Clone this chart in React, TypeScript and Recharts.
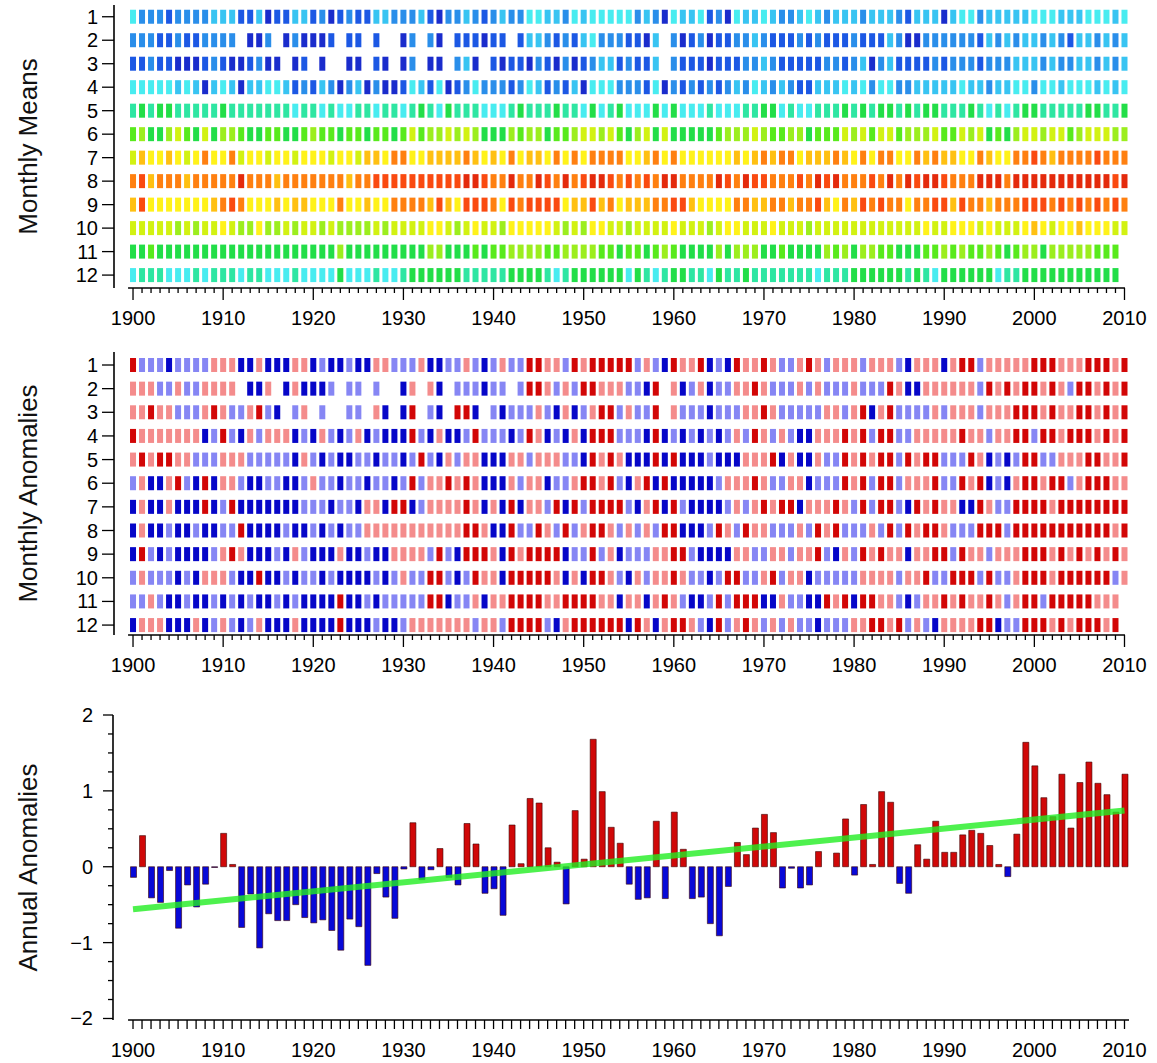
import { Bar, Cell, ComposedChart, Line, ReferenceLine, Scatter, ScatterChart, XAxis, YAxis } from "recharts";

const firstYear = 1900;
const lastYear = 2010;
const monthTicks = [1, 2, 3, 4, 5, 6, 7, 8, 9, 10, 11, 12];
const anomalyTicks = [-2, -1.75, -1.5, -1.25, -1, -0.75, -0.5, -0.25, 0, 0.25, 0.5, 0.75, 1, 1.25, 1.5, 1.75, 2];

// monthly means, one string per month, one char per year (colour level 0..e, "." = missing)
const meanRows = [
	"4222122223331130113312012113322231022" + "3212322443324344444232043341204334322" + "3432333233321333034423333344433344434",
	"222112112222.002.020001.11.1..02.20.1" + "11011.1332121342221103.20120112232111" + "2121112111320022222213232332321332323",
	"11211000121001200.01.0..00.10.02.00.2" + "30.1011021020123312113.21110111223211" + "1112212302311112122212223332322332323",
	"4444434303430334431213202302001431401" + "2422212431213044422214021212123243232" + "1133343424422333334332334424434443434",
	"5656655555655555554554544554554565465" + "5544456555655464564446464445444556645" + "4455565656656566555654545665555566556",
	"7866897696887667766787767767767978898" + "9866687886778998976896966666788898778" + "8677798979978889779896768998997899988",
	"9baaba9acaac9aa9aa9aaa9aa9bbaccaabbbb" + "cbabacabbacacaccccaabcacaaaaaababcbcc" + "abbbcbacaccaacbcbbaacbaaccdcbccccdccc",
	"cdbcccbcccccecccbcccccccbccdddddddddd" + "eedcceccedcecdeedcdcdceeccccedceddccc" + "dcedecccdcecedeedccceeeceeeeeeeeeeede",
	"bdaaaaaaabcdcaaababbaaacaabaaccccbdba" + "dddcadcddddabbdbcabbbccddbaaaaccbbccb" + "ccdbacbdcdccaccddbdccbcccdddcdcdcdcdc",
	"9999989899a988a889899898888989999aa98" + "9a998aaaaa9898aa9989999a99989aa999a99" + "98999999999999a99aaa9a999aba9aabaaa99",
	"6676666666666666666666686666666668866" + "6767788887788887767767876666868886676" + "666878688776667787877876788688888777.",
	"4555444545554554445444464445445666666" + "5555566665456666664654566554655655555" + "554555666666565466666645566666666666.",
];

// monthly anomalies: B strong cold, b weak cold, r weak warm, R strong warm
const anomalyRows = [
	"RbbbBbbbbrrrBBrBBBrrBbBBbBBrrbbbrBBbb" + "rbBbrbbRRrrbRrRRRRRbrbBRrrRBbBRrrRrbb" + "rRrbrrrbrrrbBrrrBrRRbrrrrrRRRrrrRRRrR",
	"rrrbbrbbrrrr.BBr.BrBBBb.bb.b..Br.rB.b" + "bbBbb.bRRrbrbRRrrrbbBR.rBbrBbbrrRrbbb" + "rbrbbbrbbbRrBBrrrrrrbRrRrRRrRrbRRrRrR",
	"rrRrrbbbrRrbbrRbB.br.b..bb.rB.BR.bB.R" + "RB.bBbbbrbBrBbrRRbrbbR.rbbbBbbbrrRrbb" + "bbbrrbrRBrRbbbbrbrrrbrrrRRRrRrrRRrRrR",
	"RrrrrrrrBbRbBrbrrrBbBrbBbrBbBBBRbBrBB" + "bRbbbBbRrBbBrBRRRbbbBRBbBbBbBbrbRrbrb" + "BBrrrRrRbRRbbrrrrrRrrbrrRRbRRrRRRrRrR",
	"rRrRRrrbbbrrrbbbbbBrbBbBBbbBbbBbRbBrb" + "rrBBBrrbrrrbbBRrRrBBBRBRBBBbBBBrrrRBr" + "BBrbbRrRrRRbRrRRbbbRrBbBbRRbbrrrRRrrR",
	"brBBrRbBRBrrbBBbbBBbrbbBbbBbbBbRbrrRr" + "RrBBBrbrrBbbrRRrRbBrRBRBBBBBbrrrRrbbr" + "rBbbbRrRbRRbrrrRbbRrRBbBrRRrRRbrRRRrr",
	"BrBBrBBBRBbRBBBBBBBbbbBbbBrrBRRBbrrrr" + "RrBrBRBrrbRBRbRRRRbBrRBRbBBBBbrbrRrRR" + "BrrrRrbRbRRbBRrRrrBBRrbbRRRRrRRRRRRRR",
	"BrBBbBBbBBbbRBBBBbBBbBbBbbrrrrrrrrrrr" + "RRrBBRbbRrbRbrRRrbrbrbRRBBBbRrbRrrbbb" + "rbRrRbbbrbRbRrRRrbbbRRRbRRRRRRRRRRRrR",
	"BRbBbBBBBbrRrBBBbBrbBBBrBBbBBrrrrbRbB" + "RRRrBRrRRRRBbbRbrBbbbrrRRbBBBBrrbbrrb" + "rrRbBrbRrRrrBrrRRbRrrbrrrRRRrRrRrRrRr",
	"brbbbBbBrrrbBBRBBbBbbBbBBBBbBbrbbRRbB" + "bRrrBRRRRRrBrBRRrbBrbrrRrbbBbRRbbrRbr" + "rBbbbbbrrrrbrrRbbRRRbRbbrRRRrRRRRRRbr",
	"bbrbBBbBBbBbBbBBbBbBBBBRBBbBbbbbbRRBb" + "brBrrRRRRrrRRRRrrBrrBrRrbBBbRbRRRBBrb" + "bBBRrRBRRrrbBbrrRrRrrRrbrRRbRRRRRrrr.",
	"BrrrBBBrBbrbBbrBBBrBBBBRBBBbBBbrrrrrr" + "rbrrbRRRRbBrRRRRRRBRrBrRRrbBRbrRrbrbr" + "bbBbbbrrRRrRbrbBrrrrRRBbbRRRrRrRRRrR.",
];

// annual anomalies 1900..2010
const annualAnomalies = [
	-0.14, 0.41, -0.41, -0.47, -0.05, -0.81, -0.24, -0.53, -0.23, -0.01,
	0.44, 0.03, -0.8, -0.36, -1.07, -0.62, -0.71, -0.71, -0.5, -0.67,
	-0.74, -0.7, -0.84, -1.1, -0.69, -0.79, -1.3, -0.09, -0.4, -0.68,
	-0.03, 0.58, -0.17, -0.04, 0.24, -0.14, -0.24, 0.57, 0.3, -0.35,
	-0.29, -0.64, 0.55, 0.04, 0.9, 0.84, 0.25, 0.06, -0.49, 0.74,
	0.1, 1.68, 0.99, 0.52, 0.31, -0.23, -0.43, -0.41, 0.6, -0.42,
	0.72, 0.23, -0.42, -0.4, -0.75, -0.91, -0.26, 0.32, 0.16, 0.51,
	0.69, 0.45, -0.28, -0.02, -0.28, -0.24, 0.2, 0.0, 0.18, 0.63,
	-0.11, 0.82, 0.03, 0.99, 0.85, -0.22, -0.35, 0.29, 0.1, 0.6,
	0.19, 0.19, 0.42, 0.48, 0.44, 0.28, 0.03, -0.13, 0.43, 1.64,
	1.33, 0.91, 0.66, 1.22, 0.51, 1.11, 1.38, 1.1, 0.95, 0.72,
	1.22,
];
const trendStart = -0.56; // 1900
const trendEnd = 0.74; // 2010

const meanPalette: Record<string, string> = {
	"0": "#1a2ccc", "1": "#1c58e4", "2": "#2a8eea", "3": "#38c4f2", "4": "#48ecf0",
	"5": "#2ee6a2", "6": "#22de48", "7": "#58ea1c", "8": "#9cee1e", "9": "#d2f212",
	a: "#fff21a", b: "#ffc012", c: "#ff8010", d: "#fa4a10", e: "#e42a0c",
};
const anomalyPalette: Record<string, string> = { B: "#0606c8", b: "#8686f4", r: "#f48c8c", R: "#d20606" };

const font = "'Liberation Sans', Arial, Helvetica, sans-serif";
const years: number[] = [];
for (let y = firstYear; y <= lastYear; y++) years.push(y);

function toCells(rows: string[], palette: Record<string, string>) {
	const cells: { year: number; month: number; fill: string }[] = [];
	rows.forEach((row, m) => {
		for (let i = 0; i < row.length && i < years.length; i++) {
			const fill = palette[row[i]];
			if (fill) cells.push({ year: years[i], month: m + 1, fill });
		}
	});
	return cells;
}

const meanCells = toCells(meanRows, meanPalette);
const anomalyCells = toCells(anomalyRows, anomalyPalette);
const annualData = annualAnomalies.map((v, i) => ({
	year: years[i],
	value: v,
	trend: i === 0 ? trendStart : i === annualAnomalies.length - 1 ? trendEnd : null,
}));

const renderCell = (p: any) => (
	<rect x={p.cx - 3} y={p.cy - 7} width={6} height={14} fill={p.payload.fill} />
);

function YearTick({ x, y, payload, all }: any) {
	const yr = payload.value;
	const major = yr % 10 === 0;
	const len = all ? 9 : major ? 12 : 5;
	return (
		<g>
			<line x1={x} x2={x} y1={y} y2={y + len} stroke="#000" strokeWidth={1.3} />
			{major && (
				<text x={x} y={y + 30} textAnchor="middle" dominantBaseline="central" fontSize={20} fontFamily={font} fill="#000">
					{yr}
				</text>
			)}
		</g>
	);
}

function MonthTick({ x, y, payload }: any) {
	return (
		<g>
			<line x1={x - 12} x2={x} y1={y} y2={y} stroke="#000" strokeWidth={1.3} />
			<text x={x - 16} y={y} textAnchor="end" dominantBaseline="central" fontSize={20} fontFamily={font} fill="#000">
				{payload.value}
			</text>
		</g>
	);
}

function ValueTick({ x, y, payload }: any) {
	const v = payload.value;
	const major = Number.isInteger(v);
	return (
		<g>
			<line x1={x - (major ? 10 : 5)} x2={x} y1={y} y2={y} stroke="#000" strokeWidth={1.3} />
			{major && (
				<text x={x - 20} y={y} textAnchor="end" dominantBaseline="central" fontSize={20} fontFamily={font} fill="#000">
					{v < 0 ? `\u2212${Math.abs(v)}` : `${v}`}
				</text>
			)}
		</g>
	);
}

function AxisTitle({ viewBox, text, fallback }: any) {
	const cy = viewBox && viewBox.height ? viewBox.y + viewBox.height / 2 : fallback;
	return (
		<text x={37} y={cy} transform={`rotate(-90 37 ${cy})`} textAnchor="middle" fontSize={26} fontFamily={font} fill="#111">
			{text}
		</text>
	);
}

function HeatPanel({ cells, title, top, marginTop, domain }: any) {
	return (
		<div style={{ position: "absolute", left: 0, top }}>
			<ScatterChart width={1157} height={360} margin={{ top: marginTop, right: 28, left: 0, bottom: 0 }}>
				<XAxis
					type="number"
					dataKey="year"
					domain={[1897.89, 2010.5]}
					allowDataOverflow
					ticks={years}
					interval={0}
					axisLine={false}
					tickLine={false}
					tickSize={0}
					tickMargin={0}
					height={360 - marginTop - 283}
					tick={(p: any) => <YearTick {...p} />}
				/>
				<YAxis
					type="number"
					dataKey="month"
					domain={domain}
					allowDataOverflow
					reversed
					ticks={monthTicks}
					interval={0}
					width={114}
					tickLine={false}
					tickSize={0}
					tickMargin={0}
					axisLine={{ stroke: "#000", strokeWidth: 1.6 }}
					tick={(p: any) => <MonthTick {...p} />}
					label={<AxisTitle text={title} fallback={marginTop + 141} />}
				/>
				<ReferenceLine
					segment={[{ x: 1899.45, y: domain[1] }, { x: 2010.05, y: domain[1] }]}
					stroke="#000"
					strokeWidth={1.6}
					ifOverflow="visible"
				/>
				<Scatter data={cells} shape={renderCell} isAnimationActive={false} />
			</ScatterChart>
		</div>
	);
}

export default function App() {
	return (
		<div style={{ position: "absolute", left: 0, top: 0, width: 1157, height: 1063, background: "#fff", overflow: "hidden" }}>
			<HeatPanel cells={meanCells} title="Monthly Means" top={0} marginTop={5} domain={[0.5, 12.55]} />
			<HeatPanel cells={anomalyCells} title="Monthly Anomalies" top={330} marginTop={22} domain={[0.45, 12.42]} />
			<div style={{ position: "absolute", left: 0, top: 690 }}>
				<ComposedChart width={1157} height={373} data={annualData} margin={{ top: 25, right: 28, left: 0, bottom: 0 }}>
					<XAxis
						type="number"
						dataKey="year"
						domain={[1897.78, 2010.5]}
						allowDataOverflow
						ticks={years}
						interval={0}
						axisLine={false}
						tickLine={false}
						tickSize={0}
						tickMargin={0}
						height={43}
						tick={(p: any) => <YearTick {...p} all />}
					/>
					<YAxis
						type="number"
						domain={[-2.02, 2]}
						allowDataOverflow
						ticks={anomalyTicks}
						interval={0}
						width={113}
						tickLine={false}
						tickSize={0}
						tickMargin={0}
						axisLine={{ stroke: "#000", strokeWidth: 1.6 }}
						tick={(p: any) => <ValueTick {...p} />}
						label={<AxisTitle text="Annual Anomalies" fallback={177} />}
					/>
					<ReferenceLine
						segment={[{ x: 1899.45, y: -2.02 }, { x: 2010.5, y: -2.02 }]}
						stroke="#000"
						strokeWidth={1.6}
						ifOverflow="visible"
					/>
					<Bar dataKey="value" barSize={6} stroke="#3a0000" strokeWidth={0.6} isAnimationActive={false}>
						{annualData.map((d) => (
							<Cell key={d.year} fill={d.value >= 0 ? "#d00808" : "#0808d8"} />
						))}
					</Bar>
					<Line
						dataKey="trend"
						connectNulls
						dot={false}
						stroke="#22ee22"
						strokeOpacity={0.8}
						strokeWidth={6}
						isAnimationActive={false}
					/>
				</ComposedChart>
			</div>
		</div>
	);
}
